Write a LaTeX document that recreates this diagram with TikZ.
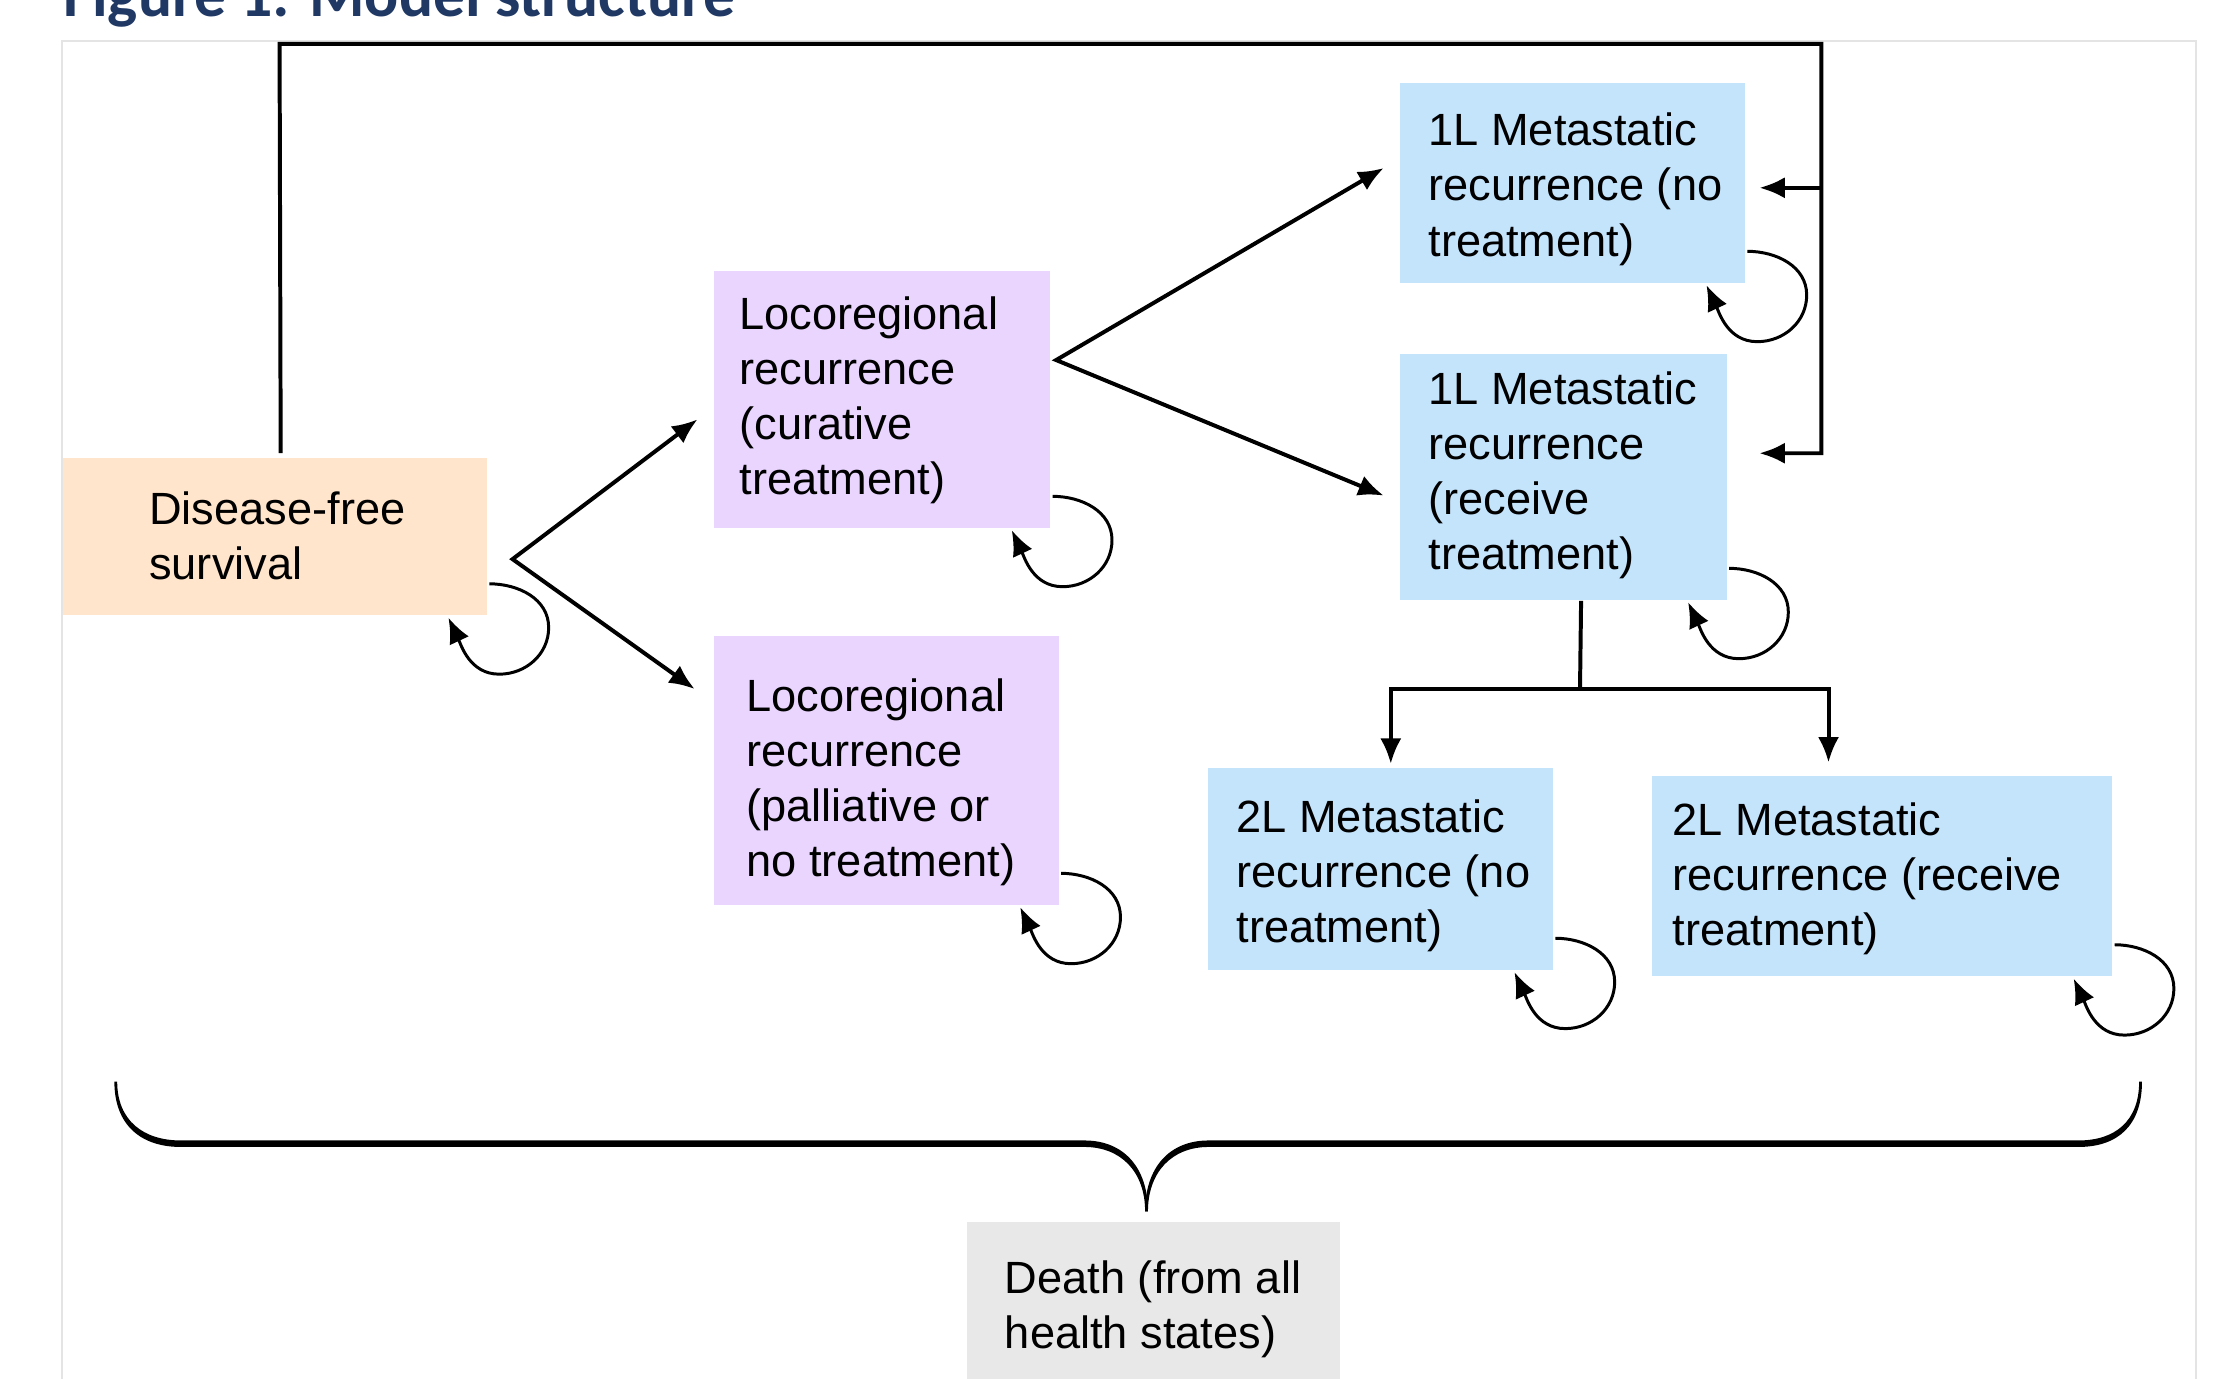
\documentclass[tikz,border=0pt]{standalone}
\usepackage{fontspec}
\setmainfont{Liberation Sans}
\newfontfamily\titlefont{Carlito}
\usetikzlibrary{arrows.meta,calc}
\definecolor{peach}{HTML}{FFE5CC}
\definecolor{lav}{HTML}{E9D5FE}
\definecolor{sky}{HTML}{C4E4FC}
\definecolor{gry}{HTML}{E8E8E8}
\definecolor{navy}{HTML}{1F3864}
\definecolor{framegray}{HTML}{E4E4E4}
\tikzset{
  Arr/.tip={Latex[length=0.18cm,width=0.15cm]},
  box/.style={draw=none, inner sep=0pt, anchor=north west},
  txt/.style={anchor=west, align=left, inner sep=0pt, font=\fontsize{9.1pt}{11.1pt}\selectfont},
  conn/.style={line width=0.8pt, line join=miter, -{Arr}},
  plain/.style={line width=0.8pt, line join=miter},
  loopy/.style={line width=0.6pt, -{Arr}},
}
\newcommand\selfloop[1]{\draw[loopy] ($(#1.south east)+(1,23)$) to[out=0,in=90] ($(#1.south east)+(43,-8)$) to[out=-90,in=0] ($(#1.south east)+(8,-41)$) to[out=180,in=-65] ($(#1.south east)+(-28,-1)$);}
\begin{document}
\begin{tikzpicture}[x=0.01cm,y=0.01cm]
\useasboundingbox (0,0) rectangle (1568,-976);
% frame
\draw[framegray, line width=0.4pt] (44,-1100) -- (44,-29) -- (1555,-29) -- (1555,-1100);
% title (cut off at the top edge, as in the reference)
\node[anchor=base west, inner sep=0pt, text=navy, font=\titlefont\bfseries\fontsize{12.8pt}{14pt}\selectfont] (title) at (44,-11.7) {Figure 1: Model structure};
% boxes
\node[box, fill=peach, minimum width=3.00cm, minimum height=1.11cm] (dfs) at (44,-324) {};
\node[box, fill=lav, minimum width=2.38cm, minimum height=1.82cm] (cur) at (505,-191) {};
\node[box, fill=lav, minimum width=2.44cm, minimum height=1.90cm] (pal) at (505,-450) {};
\node[box, fill=sky, minimum width=2.44cm, minimum height=1.415cm] (m1n) at (991,-58) {};
\node[box, fill=sky, minimum width=2.31cm, minimum height=1.74cm] (m1r) at (991,-250) {};
\node[box, fill=sky, minimum width=2.44cm, minimum height=1.43cm] (m2n) at (855,-543) {};
\node[box, fill=sky, minimum width=3.26cm, minimum height=1.416cm] (m2r) at (1169,-549) {};
\node[box, fill=gry, minimum width=2.64cm, minimum height=1.40cm] (dth) at (684,-865) {};
% texts
\node[txt] (dfst) at (105,-379.5) {Disease-free\\survival};
\node[txt] (curt) at (523,-283.5) {Locoregional\\recurrence\\(curative\\treatment)};
\node[txt] (palt) at (528,-554) {Locoregional\\recurrence\\(palliative or\\no treatment)};
\node[txt] (m1nt) at (1011,-134) {1L Metastatic\\recurrence (no\\treatment)};
\node[txt] (m1rt) at (1011,-336.5) {1L Metastatic\\recurrence\\(receive\\treatment)};
\node[txt] (m2nt) at (875,-620) {2L Metastatic\\recurrence (no\\treatment)};
\node[txt] (m2rt) at (1184,-622.5) {2L Metastatic\\recurrence (receive\\treatment)};
\node[txt] (dtht) at (711,-927.5) {Death (from all\\health states)};
% fork from DFS
\coordinate (fa) at (363,-396);
\coordinate (fau) at (494,-297);
\coordinate (fad) at (492,-488);
\draw[plain, {Arr}-{Arr}] (fau) -- (fa) -- (fad);
% fork from curative
\coordinate (fb) at (748,-255);
\coordinate (fbu) at (980,-119);
\coordinate (fbd) at (980,-351);
\draw[plain, {Arr}-{Arr}] (fbu) -- (fb) -- (fbd);
% feedback from DFS to 1L states
\coordinate (fbc1) at (1290,-31);
\coordinate (m1nin) at (1246,-133);
\coordinate (m1rin) at (1246,-321);
\draw[conn] ($(dfs.north)+(4,3)$) -- (198,-31) -- (fbc1) -- (1290,-321) -- (m1rin);
\draw[conn] (1290,-133) -- (m1nin);
% 1L receive to 2L states
\coordinate (br) at (1119,-488);
\draw[plain] ($(m1r.south)+(12.5,0)$) -- (br);
\draw[conn] (br) -| (985,-541);
\draw[conn] (br) -| (1295,-540);
% self loops
\selfloop{dfs}
\selfloop{cur}
\selfloop{pal}
\selfloop{m1n}
\selfloop{m1r}
\selfloop{m2n}
\selfloop{m2r}
% brace to death
\fill (81,-766) .. controls (81,-797) and (100,-812.3) .. (128,-812.3) -- (768,-812.3) .. controls (794,-812.3) and (811,-830) .. (811,-858)
  -- (813,-858) .. controls (813,-827) and (796,-807.7) .. (768,-807.7) -- (128,-807.7) .. controls (102,-807.7) and (83,-794) .. (83,-766) -- cycle;
\fill (813,-858) .. controls (813,-830) and (830,-812.3) .. (856,-812.3) -- (1472,-812.3) .. controls (1500,-812.3) and (1517,-797) .. (1517,-766)
  -- (1515,-766) .. controls (1515,-794) and (1498,-807.7) .. (1472,-807.7) -- (856,-807.7) .. controls (828,-807.7) and (811,-827) .. (811,-858) -- cycle;
\end{tikzpicture}
\end{document}
